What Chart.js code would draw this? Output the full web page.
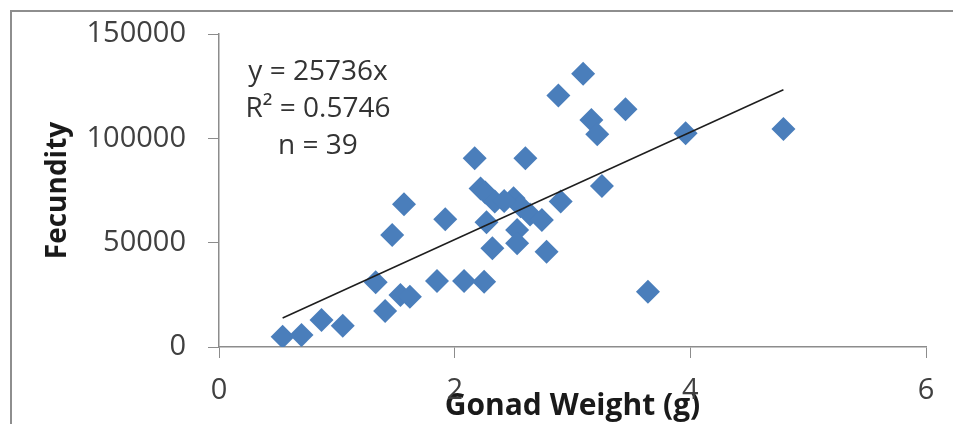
<!DOCTYPE html>
<html>
<head>
<meta charset="utf-8">
<script src="https://cdn.jsdelivr.net/npm/chart.js@4.4.0/dist/chart.umd.min.js"></script>
<style>
  html, body { margin: 0; padding: 0; background: #fff; overflow: hidden; }
  #wrap { position: relative; width: 953px; height: 424px; }
  #marco { position: absolute; left: 10px; top: 10px; width: 980px; height: 460px; border: 2px solid #8e8e8e; box-sizing: border-box; }
  #chart { position: absolute; left: 0; top: 0; }
</style>
</head>
<body>
<div id="wrap">
  <div id="marco"></div>
  <canvas id="chart" width="953" height="424"></canvas>
</div>
<script>
// datos
const pesoGonada = [0.54, 0.70, 0.87, 1.05, 1.33, 1.41, 1.47, 1.57, 1.54, 1.62,
                    1.85, 1.92, 2.08, 2.17, 2.25, 2.22, 2.26, 2.34, 2.27, 2.32,
                    3.09, 2.88, 3.45, 3.16, 3.21, 3.96, 4.79, 2.60, 3.25, 2.90,
                    2.50, 2.56, 2.64, 2.74, 2.53, 2.53, 2.78, 3.64, 2.42];
const fecundidad = [4900, 5700, 12900, 10200, 31000, 17200, 53700, 68400, 24900, 24100,
                    31600, 61200, 31600, 90400, 31300, 76000, 74000, 69700, 59800, 47300,
                    130900, 120500, 113900, 108800, 102000, 102400, 104500, 90400, 77200, 69700,
                    71300, 67500, 63500, 60900, 56100, 49700, 45700, 26500, 70000];
const pendiente = 25736;
const textoR2 = "R\u00B2 = 0.5746";
const ticksY = [0, 50000, 100000, 150000];
const ticksX = [0, 2, 4, 6];

const fuente = "'Open Sans', 'Liberation Sans', sans-serif";
const gris = "#8c8c8c";

const puntos = pesoGonada.map((x, i) => ({ x: x, y: fecundidad[i] }));
const xMin = Math.min(...pesoGonada);
const xMax = Math.max(...pesoGonada);
const tendencia = [{ x: xMin, y: pendiente * xMin }, { x: xMax, y: pendiente * xMax }];

//---------------------------------------------- texto de la ecuacion
const textoEcuacion = {
  id: "textoEcuacion",
  afterDatasetsDraw(chart) {
    const { ctx, scales: { x, y } } = chart;
    const cx = x.getPixelForValue(0.84);
    const cy = y.getPixelForValue(131800);
    const lineas = ["y = " + pendiente + "x", textoR2, "n = " + pesoGonada.length];
    ctx.save();
    ctx.font = "28px " + fuente;
    ctx.fillStyle = "#333333";
    ctx.textAlign = "center";
    ctx.textBaseline = "middle";
    lineas.forEach((t, i) => ctx.fillText(t, cx, cy + i * 37));
    ctx.restore();
  }
};

const config = {
  type: "scatter",
  data: {
    datasets: [
      {
        type: "line",
        data: tendencia,
        borderColor: "#1e1e1e",
        borderWidth: 1.5,
        pointRadius: 0,
        fill: false,
        order: 0
      },
      {
        data: puntos,
        pointStyle: "rectRot",
        pointRadius: 12,
        pointHoverRadius: 12,
        backgroundColor: "#4a7ebb",
        borderColor: "#4a7ebb",
        borderWidth: 0,
        order: 1
      }
    ]
  },
  options: {
    responsive: false,
    animation: false,
    layout: { padding: { top: 34, right: 27, left: 0, bottom: 0 } },
    plugins: { legend: { display: false }, tooltip: { enabled: false } },
    scales: {
      x: {
        type: "linear",
        min: 0, max: 6,
        afterBuildTicks: (s) => { s.ticks = ticksX.map(v => ({ value: v })); },
        afterFit: (s) => { s.height = 77; s.paddingLeft = 0; s.paddingRight = 0; },
        grid: { drawOnChartArea: false, drawTicks: true, tickLength: 11, color: gris },
        border: { color: gris, width: 1.5 },
        ticks: { color: "#404040", padding: 15, font: { family: fuente, size: 29 },
                 callback: (v) => String(v) },
        title: {
          display: true,
          text: "Gonad Weight (g)",
          color: "#1a1a1a",
          font: { family: fuente, size: 30, weight: "bold" },
          padding: { top: 0, bottom: 0 }
        }
      },
      y: {
        type: "linear",
        min: 0, max: 150000,
        afterBuildTicks: (s) => { s.ticks = ticksY.map(v => ({ value: v })); },
        afterFit: (s) => { s.width = 219; s.paddingTop = 0; s.paddingBottom = 0; },
        grid: { drawOnChartArea: false, drawTicks: true, tickLength: 11, color: gris },
        border: { color: gris, width: 1.5 },
        ticks: { color: "#404040", padding: 22, font: { family: fuente, size: 29 },
                 callback: (v) => String(v) },
        title: {
          display: true,
          text: "Fecundity",
          color: "#1a1a1a",
          font: { family: fuente, size: 28, weight: "bold" },
          padding: { top: 41, bottom: 0 }
        }
      }
    }
  },
  plugins: [textoEcuacion]
};

new Chart(document.getElementById("chart"), config);
</script>
</body>
</html>
